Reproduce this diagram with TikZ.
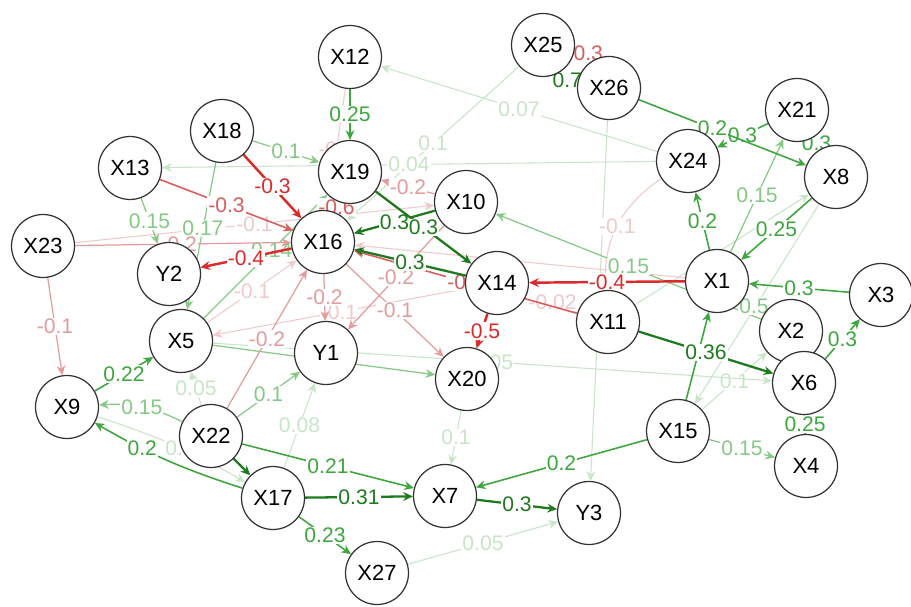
\documentclass[tikz,border=0pt]{standalone}
\usepackage{fontspec}
\setmainfont{Liberation Sans}
\usepackage{tikz}
\usetikzlibrary{automata,positioning,arrows.meta}

\definecolor{gdark}{HTML}{1F7A1F}
\definecolor{gmid}{HTML}{3FA63F}
\definecolor{glight}{HTML}{86C886}
\definecolor{gfaint}{HTML}{C8E5C8}
\definecolor{rstrong}{HTML}{D92B2B}
\definecolor{rmid}{HTML}{D65E5E}
\definecolor{rlight}{HTML}{E29C9C}
\definecolor{rfaint}{HTML}{EECACA}

\pgfdeclarelayer{edges}
\pgfsetlayers{edges,main}

\tikzset{
  every state/.style={draw=black!80, fill=white, line width=0.7pt, minimum size=1.26cm, inner sep=0pt, font=\fontsize{12.5}{14}\selectfont},
  lbl/.style={fill=white, inner sep=0.6pt, font=\fontsize{12}{13}\selectfont},
  gd/.style={gdark, line width=1.3pt},
  gm/.style={gmid, line width=0.9pt},
  gl/.style={glight, line width=0.7pt},
  gf/.style={gfaint, line width=0.6pt},
  rs/.style={rstrong, line width=1.4pt},
  rm/.style={rmid, line width=0.9pt},
  rl/.style={rlight, line width=0.7pt},
  rf/.style={rfaint, line width=0.6pt}
}

\begin{document}
\begin{tikzpicture}[->,>={Stealth[length=5.5pt,width=5pt]}, x=0.02cm, y=-0.02cm]

\useasboundingbox (0,0) rectangle (911,607);

\node[state] (X12) at (350,57) {X12};
\node[state] (X25) at (543,45) {X25};
\node[state] (X26) at (609,88) {X26};
\node[state] (X21) at (797,110) {X21};
\node[state] (X8) at (836,177) {X8};
\node[state] (X24) at (688,161) {X24};
\node[state] (X18) at (222,131) {X18};
\node[state] (X13) at (130,168) {X13};
\node[state] (X19) at (350,172) {X19};
\node[state] (X10) at (466,202) {X10};
\node[state] (X16) at (323,242) {X16};
\node[state] (X23) at (43,246) {X23};
\node[state] (Y2) at (169,274) {Y2};
\node[state] (X14) at (497,283) {X14};
\node[state] (X1) at (717,281) {X1};
\node[state] (X3) at (881,295) {X3};
\node[state] (X11) at (608,322) {X11};
\node[state] (X2) at (791,331) {X2};
\node[state] (X6) at (804,383) {X6};
\node[state] (X5) at (181,341) {X5};
\node[state] (Y1) at (326,353) {Y1};
\node[state] (X20) at (467,379) {X20};
\node[state] (X9) at (67,407) {X9};
\node[state] (X22) at (211,436) {X22};
\node[state] (X15) at (678,431) {X15};
\node[state] (X4) at (806,466) {X4};
\node[state] (X17) at (273,498) {X17};
\node[state] (X7) at (445,496) {X7};
\node[state] (Y3) at (589,513) {Y3};
\node[state] (X27) at (377,573) {X27};

\begin{pgfonlayer}{edges}
%faint
\path (X24) edge[gf] node[lbl] {0.07} (X12);
\path (X25) edge[gf] node[lbl] {0.1} (X16);
\path (X24) edge[gf] node[lbl] {0.04} (X13);
\path (X26) edge[gf] (Y3);
\path (X8) edge[gf] (X15);
\path (X11) edge[gf] (X8);
\path (X15) edge[gf] node[lbl] {0.1} (X2);
\path (X27) edge[gf] node[lbl] {0.05} (Y3);
\path (X20) edge[gf] node[lbl] {0.1} (X7);
\path (X17) edge[gf] node[lbl] {0.08} (Y1);
\path (X9) edge[gf,bend left=6] node[lbl,pos=0.55] {0.1} (X17);
\path (X5) edge[gf] node[lbl] {0.05} (X6);
\path (X22) edge[gf] node[lbl] {0.05} (X5);
\path (X23) edge[rf] node[lbl] {-0.1} (X10);
\path (X12) edge[rf] node[lbl] {-0.1} (X16);
\path (X14) edge[rf] node[lbl] {-0.1} (X5);
\path (X5) edge[rf] node[lbl] {-0.1} (X16);
\path (X14) edge[rf] node[lbl] {-0.02} (X11);
\path (X24) edge[rf,bend right=30] node[lbl] {-0.1} (X11);
\path (X1) edge[rf] (X16);

%light
\path (X13) edge[gl] node[lbl] {0.15} (Y2);
\path (X18) edge[gl] node[lbl] {0.1} (X19);
\path (X18) edge[gl] node[lbl,pos=0.45] {0.17} (X5);
\path (X5) edge[gl] node[lbl,pos=0.55] {0.14} (X19);
\path (X5) edge[gl] (X20);
\path (X2) edge[gl] node[lbl] {0.15} (X10);
\path (X1) edge[gl] node[lbl] {0.15} (X21);
\path (X1) edge[gl] node[lbl] {0.5} (X2);
\path (X15) edge[gl] node[lbl] {0.15} (X4);
\path (X22) edge[gl,bend right=15] node[lbl] {0.15} (X9);
\path (X22) edge[gl] node[lbl] {0.1} (Y1);
\path (X23) edge[rl] node[lbl] {-0.1} (X9);
\path (X23) edge[rl] node[lbl,pos=0.48] {-0.2} (X16);
\path (X10) edge[rl] node[lbl] {-0.2} (X19);
\path (X10) edge[rl] node[lbl] {-0.2} (Y1);
\path (X16) edge[rl] node[lbl] {-0.2} (Y1);
\path (X22) edge[rl] node[lbl] {-0.2} (X16);
\path (X16) edge[rl] node[lbl] {-0.1} (X20);

%medium
\path (X12) edge[gm] node[lbl] {0.25} (X19);
\path (X1) edge[gm] node[lbl] {0.2} (X24);
\path (X21) edge[gm] node[lbl] {0.3} (X24);
\path (X21) edge[gm] node[lbl] {0.3} (X8);
\path (X26) edge[gm] node[lbl,pos=0.44] {0.2} (X8);
\path (X8) edge[gm] node[lbl] {0.25} (X1);
\path (X3) edge[gm] node[lbl] {0.3} (X1);
\path (X6) edge[gm] node[lbl] {0.3} (X3);
\path (X4) edge[gm] node[lbl] {0.25} (X6);
\path (X15) edge[gm] (X1);
\path (X15) edge[gm] node[lbl] {0.2} (X7);
\path (X22) edge[gm] node[lbl] {0.21} (X7);
\path (X17) edge[gm] node[lbl] {0.23} (X27);
\path (X9) edge[gm] node[lbl] {0.22} (X5);
\path (X17) edge[gm,bend left=6] node[lbl,pos=0.68] {0.2} (X9);
\path (X13) edge[rm] node[lbl] {-0.3} (X16);
\path (X26) edge[rm,bend right=25] node[lbl] {-0.3} (X25);
\path (X11) edge[rm] node[lbl] {-0.3} (X16);
\path (X19) edge[rm] node[lbl] {-0.6} (X16);

%strong
\path (X10) edge[gd] node[lbl] {0.3} (X16);
\path (X19) edge[gd] node[lbl] {0.3} (X14);
\path (X14) edge[gd] node[lbl] {0.3} (X16);
\path (X25) edge[gd,bend right=25] node[lbl] {0.7} (X26);
\path (X11) edge[gd] node[lbl] {0.36} (X6);
\path (X17) edge[gd] node[lbl] {0.31} (X7);
\path (X7) edge[gd] node[lbl] {0.3} (Y3);
\path (X22) edge[gd] (X17);
\path (X18) edge[rs] node[lbl] {-0.3} (X16);
\path (X16) edge[rs] node[lbl] {-0.4} (Y2);
\path (X1) edge[rs] node[lbl] {-0.4} (X14);
\path (X14) edge[rs] node[lbl] {-0.5} (X20);
\end{pgfonlayer}

\end{tikzpicture}
\end{document}
